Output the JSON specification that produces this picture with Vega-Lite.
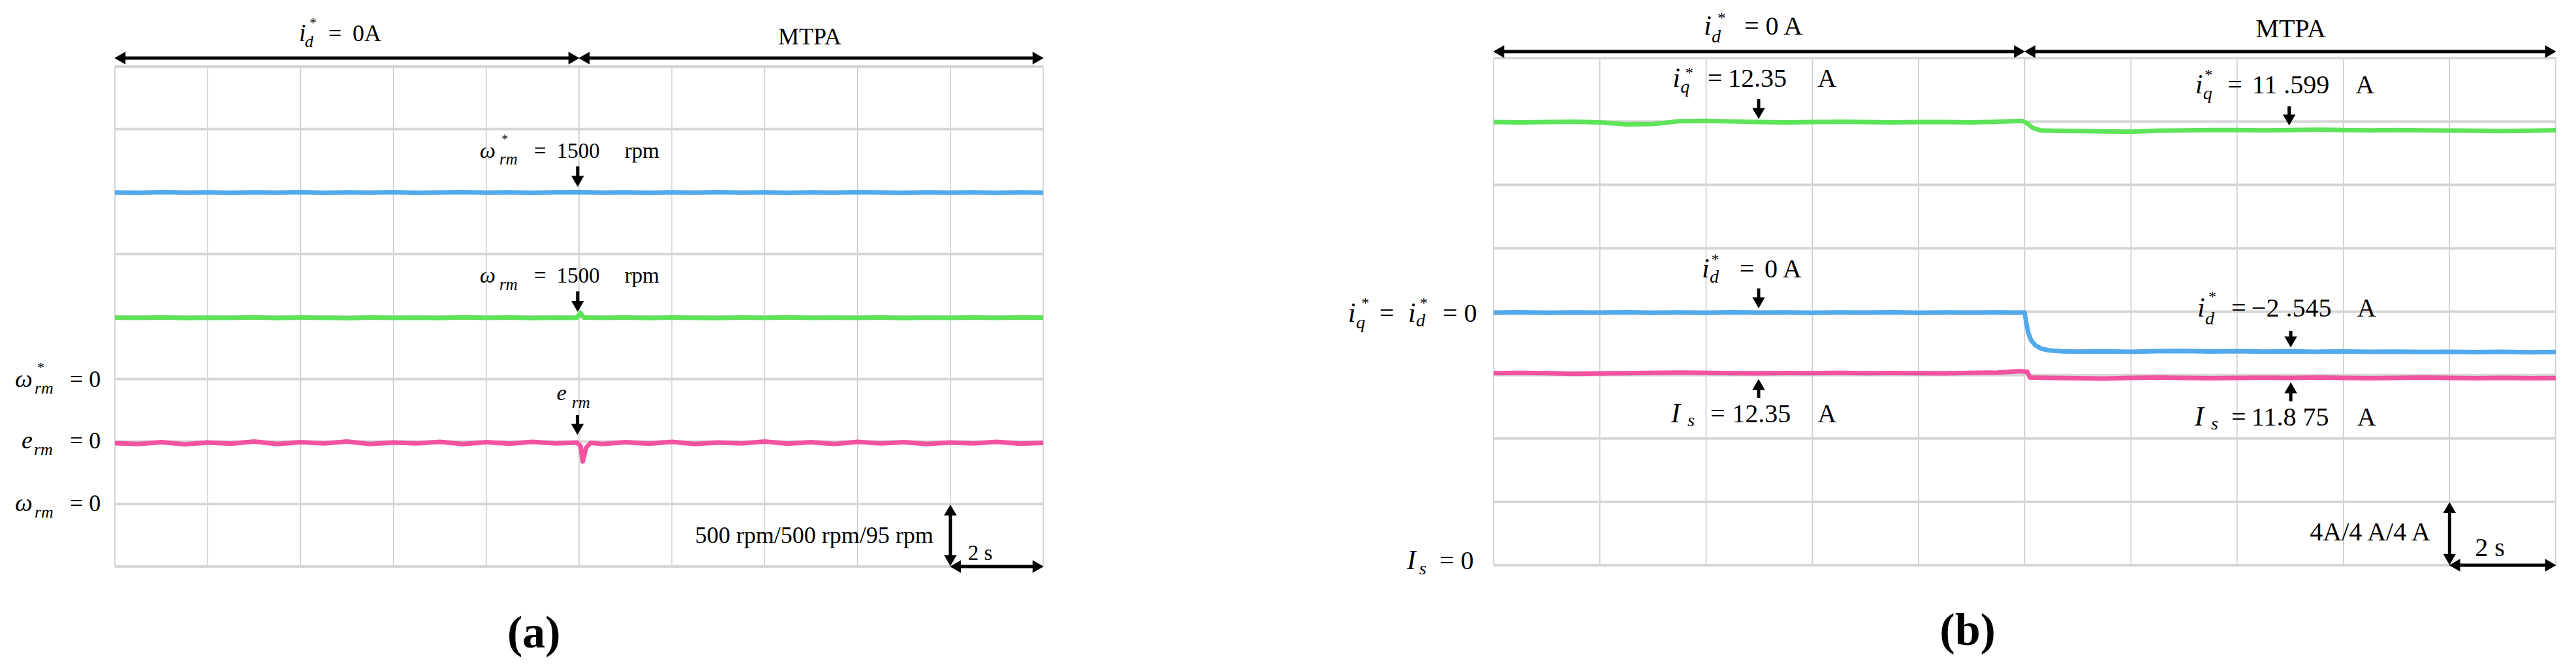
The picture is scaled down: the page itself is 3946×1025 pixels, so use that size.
{
"$schema": "https://vega.github.io/schema/vega-lite/v6.json",
"padding": 0,
"autosize": {"type": "pad"},
"spacing": 690,
"bounds": "flush",
"config": {"view": {"stroke": null}},
"resolve": {"scale": {"color": "independent"}},
"datasets": {
"grid": [
{"d":"v","t":0,"v":0,"t2":0,"v2":8},{"d":"v","t":2,"v":0,"t2":2,"v2":8},{"d":"v","t":4,"v":0,"t2":4,"v2":8},{"d":"v","t":6,"v":0,"t2":6,"v2":8},{"d":"v","t":8,"v":0,"t2":8,"v2":8},{"d":"v","t":10,"v":0,"t2":10,"v2":8},{"d":"v","t":12,"v":0,"t2":12,"v2":8},{"d":"v","t":14,"v":0,"t2":14,"v2":8},{"d":"v","t":16,"v":0,"t2":16,"v2":8},{"d":"v","t":18,"v":0,"t2":18,"v2":8},{"d":"v","t":20,"v":0,"t2":20,"v2":8},
{"d":"h","t":0,"v":0,"t2":20,"v2":0},{"d":"h","t":0,"v":1,"t2":20,"v2":1},{"d":"h","t":0,"v":2,"t2":20,"v2":2},{"d":"h","t":0,"v":3,"t2":20,"v2":3},{"d":"h","t":0,"v":4,"t2":20,"v2":4},{"d":"h","t":0,"v":5,"t2":20,"v2":5},{"d":"h","t":0,"v":6,"t2":20,"v2":6},{"d":"h","t":0,"v":7,"t2":20,"v2":7},{"d":"h","t":0,"v":8,"t2":20,"v2":8}
],
"a_trace": [
{"k":"wref","t":0,"v":5.985},{"k":"wref","t":0.5,"v":5.98},{"k":"wref","t":1,"v":5.99},{"k":"wref","t":1.5,"v":5.982},{"k":"wref","t":2,"v":5.986},{"k":"wref","t":2.5,"v":5.978},{"k":"wref","t":3,"v":5.988},{"k":"wref","t":3.5,"v":5.983},{"k":"wref","t":4,"v":5.99},{"k":"wref","t":4.5,"v":5.98},{"k":"wref","t":5,"v":5.986},{"k":"wref","t":5.5,"v":5.981},{"k":"wref","t":6,"v":5.989},{"k":"wref","t":6.5,"v":5.979},{"k":"wref","t":7,"v":5.985},{"k":"wref","t":7.5,"v":5.99},{"k":"wref","t":8,"v":5.982},{"k":"wref","t":8.5,"v":5.987},{"k":"wref","t":9,"v":5.98},{"k":"wref","t":9.5,"v":5.986},{"k":"wref","t":10,"v":5.99},{"k":"wref","t":10.5,"v":5.982},{"k":"wref","t":11,"v":5.987},{"k":"wref","t":11.5,"v":5.979},{"k":"wref","t":12,"v":5.988},{"k":"wref","t":12.5,"v":5.983},{"k":"wref","t":13,"v":5.99},{"k":"wref","t":13.5,"v":5.981},{"k":"wref","t":14,"v":5.986},{"k":"wref","t":14.5,"v":5.98},{"k":"wref","t":15,"v":5.988},{"k":"wref","t":15.5,"v":5.982},{"k":"wref","t":16,"v":5.99},{"k":"wref","t":16.5,"v":5.984},{"k":"wref","t":17,"v":5.979},{"k":"wref","t":17.5,"v":5.987},{"k":"wref","t":18,"v":5.982},{"k":"wref","t":18.5,"v":5.988},{"k":"wref","t":19,"v":5.98},{"k":"wref","t":19.5,"v":5.986},{"k":"wref","t":20,"v":5.983},
{"k":"w","t":0,"v":3.982},{"k":"w","t":0.5,"v":3.978},{"k":"w","t":1,"v":3.985},{"k":"w","t":1.5,"v":3.976},{"k":"w","t":2,"v":3.983},{"k":"w","t":2.5,"v":3.979},{"k":"w","t":3,"v":3.986},{"k":"w","t":3.5,"v":3.977},{"k":"w","t":4,"v":3.984},{"k":"w","t":4.5,"v":3.98},{"k":"w","t":5,"v":3.975},{"k":"w","t":5.5,"v":3.985},{"k":"w","t":6,"v":3.979},{"k":"w","t":6.5,"v":3.983},{"k":"w","t":7,"v":3.977},{"k":"w","t":7.5,"v":3.986},{"k":"w","t":8,"v":3.98},{"k":"w","t":8.5,"v":3.984},{"k":"w","t":9,"v":3.977},{"k":"w","t":9.5,"v":3.983},{"k":"w","t":9.95,"v":3.98},{"k":"w","t":10.03,"v":4.06},{"k":"w","t":10.1,"v":3.985},{"k":"w","t":10.5,"v":3.979},{"k":"w","t":11,"v":3.984},{"k":"w","t":11.5,"v":3.977},{"k":"w","t":12,"v":3.985},{"k":"w","t":12.5,"v":3.98},{"k":"w","t":13,"v":3.976},{"k":"w","t":13.5,"v":3.984},{"k":"w","t":14,"v":3.979},{"k":"w","t":14.5,"v":3.986},{"k":"w","t":15,"v":3.978},{"k":"w","t":15.5,"v":3.983},{"k":"w","t":16,"v":3.98},{"k":"w","t":16.5,"v":3.985},{"k":"w","t":17,"v":3.977},{"k":"w","t":17.5,"v":3.982},{"k":"w","t":18,"v":3.979},{"k":"w","t":18.5,"v":3.985},{"k":"w","t":19,"v":3.978},{"k":"w","t":19.5,"v":3.984},{"k":"w","t":20,"v":3.981},
{"k":"e","t":0,"v":1.975},{"k":"e","t":0.5,"v":1.96},{"k":"e","t":1,"v":1.99},{"k":"e","t":1.5,"v":1.955},{"k":"e","t":2,"v":1.985},{"k":"e","t":2.5,"v":1.965},{"k":"e","t":3,"v":2.0},{"k":"e","t":3.5,"v":1.96},{"k":"e","t":4,"v":1.99},{"k":"e","t":4.5,"v":1.97},{"k":"e","t":5,"v":2.0},{"k":"e","t":5.5,"v":1.96},{"k":"e","t":6,"v":1.985},{"k":"e","t":6.5,"v":1.97},{"k":"e","t":7,"v":1.995},{"k":"e","t":7.5,"v":1.96},{"k":"e","t":8,"v":1.99},{"k":"e","t":8.5,"v":1.965},{"k":"e","t":9,"v":1.995},{"k":"e","t":9.5,"v":1.97},{"k":"e","t":9.95,"v":1.985},{"k":"e","t":10.03,"v":1.93},{"k":"e","t":10.08,"v":1.68},{"k":"e","t":10.15,"v":1.9},{"k":"e","t":10.25,"v":1.98},{"k":"e","t":10.5,"v":1.96},{"k":"e","t":11,"v":1.99},{"k":"e","t":11.5,"v":1.965},{"k":"e","t":12,"v":1.995},{"k":"e","t":12.5,"v":1.96},{"k":"e","t":13,"v":1.985},{"k":"e","t":13.5,"v":1.97},{"k":"e","t":14,"v":2.0},{"k":"e","t":14.5,"v":1.965},{"k":"e","t":15,"v":1.99},{"k":"e","t":15.5,"v":1.96},{"k":"e","t":16,"v":1.995},{"k":"e","t":16.5,"v":1.97},{"k":"e","t":17,"v":1.99},{"k":"e","t":17.5,"v":1.96},{"k":"e","t":18,"v":1.985},{"k":"e","t":18.5,"v":1.97},{"k":"e","t":19,"v":1.995},{"k":"e","t":19.5,"v":1.965},{"k":"e","t":20,"v":1.98}
],
"b_trace": [
{"k":"iq","t":0,"v":6.99},{"k":"iq","t":0.5,"v":6.985},{"k":"iq","t":1,"v":6.99},{"k":"iq","t":1.5,"v":6.995},{"k":"iq","t":2,"v":6.985},{"k":"iq","t":2.5,"v":6.955},{"k":"iq","t":3,"v":6.96},{"k":"iq","t":3.5,"v":7.005},{"k":"iq","t":4,"v":7.01},{"k":"iq","t":4.5,"v":7.0},{"k":"iq","t":5,"v":6.99},{"k":"iq","t":5.5,"v":6.985},{"k":"iq","t":6,"v":6.99},{"k":"iq","t":6.5,"v":6.995},{"k":"iq","t":7,"v":6.99},{"k":"iq","t":7.5,"v":6.985},{"k":"iq","t":8,"v":6.99},{"k":"iq","t":8.5,"v":6.99},{"k":"iq","t":9,"v":6.985},{"k":"iq","t":9.5,"v":6.995},{"k":"iq","t":9.95,"v":7.01},{"k":"iq","t":10.05,"v":6.97},{"k":"iq","t":10.15,"v":6.9},{"k":"iq","t":10.3,"v":6.86},{"k":"iq","t":10.5,"v":6.855},{"k":"iq","t":11,"v":6.85},{"k":"iq","t":11.5,"v":6.845},{"k":"iq","t":12,"v":6.84},{"k":"iq","t":12.5,"v":6.855},{"k":"iq","t":13,"v":6.86},{"k":"iq","t":13.5,"v":6.865},{"k":"iq","t":14,"v":6.865},{"k":"iq","t":14.5,"v":6.86},{"k":"iq","t":15,"v":6.865},{"k":"iq","t":15.5,"v":6.87},{"k":"iq","t":16,"v":6.865},{"k":"iq","t":16.5,"v":6.86},{"k":"iq","t":17,"v":6.865},{"k":"iq","t":17.5,"v":6.86},{"k":"iq","t":18,"v":6.858},{"k":"iq","t":18.5,"v":6.855},{"k":"iq","t":19,"v":6.85},{"k":"iq","t":19.5,"v":6.855},{"k":"iq","t":20,"v":6.862},
{"k":"id","t":0,"v":3.985},{"k":"id","t":0.5,"v":3.99},{"k":"id","t":1,"v":3.982},{"k":"id","t":1.5,"v":3.988},{"k":"id","t":2,"v":3.984},{"k":"id","t":2.5,"v":3.99},{"k":"id","t":3,"v":3.983},{"k":"id","t":3.5,"v":3.987},{"k":"id","t":4,"v":3.982},{"k":"id","t":4.5,"v":3.99},{"k":"id","t":5,"v":3.985},{"k":"id","t":5.5,"v":3.988},{"k":"id","t":6,"v":3.983},{"k":"id","t":6.5,"v":3.987},{"k":"id","t":7,"v":3.984},{"k":"id","t":7.5,"v":3.99},{"k":"id","t":8,"v":3.983},{"k":"id","t":8.5,"v":3.988},{"k":"id","t":9,"v":3.984},{"k":"id","t":9.5,"v":3.987},{"k":"id","t":10,"v":3.985},{"k":"id","t":10.03,"v":3.82},{"k":"id","t":10.07,"v":3.66},{"k":"id","t":10.12,"v":3.55},{"k":"id","t":10.2,"v":3.47},{"k":"id","t":10.3,"v":3.42},{"k":"id","t":10.45,"v":3.39},{"k":"id","t":10.7,"v":3.375},{"k":"id","t":11,"v":3.37},{"k":"id","t":11.5,"v":3.375},{"k":"id","t":12,"v":3.368},{"k":"id","t":12.5,"v":3.378},{"k":"id","t":13,"v":3.38},{"k":"id","t":13.5,"v":3.372},{"k":"id","t":14,"v":3.377},{"k":"id","t":14.5,"v":3.37},{"k":"id","t":15,"v":3.375},{"k":"id","t":15.5,"v":3.368},{"k":"id","t":16,"v":3.372},{"k":"id","t":16.5,"v":3.366},{"k":"id","t":17,"v":3.37},{"k":"id","t":17.5,"v":3.364},{"k":"id","t":18,"v":3.368},{"k":"id","t":18.5,"v":3.362},{"k":"id","t":19,"v":3.366},{"k":"id","t":19.5,"v":3.36},{"k":"id","t":20,"v":3.363},
{"k":"Is","t":0,"v":3.03},{"k":"Is","t":0.5,"v":3.035},{"k":"Is","t":1,"v":3.03},{"k":"Is","t":1.5,"v":3.02},{"k":"Is","t":2,"v":3.025},{"k":"Is","t":2.5,"v":3.03},{"k":"Is","t":3,"v":3.035},{"k":"Is","t":3.5,"v":3.04},{"k":"Is","t":4,"v":3.035},{"k":"Is","t":4.5,"v":3.03},{"k":"Is","t":5,"v":3.028},{"k":"Is","t":5.5,"v":3.032},{"k":"Is","t":6,"v":3.03},{"k":"Is","t":6.5,"v":3.035},{"k":"Is","t":7,"v":3.03},{"k":"Is","t":7.5,"v":3.033},{"k":"Is","t":8,"v":3.03},{"k":"Is","t":8.5,"v":3.028},{"k":"Is","t":9,"v":3.035},{"k":"Is","t":9.5,"v":3.04},{"k":"Is","t":9.9,"v":3.06},{"k":"Is","t":10.05,"v":3.05},{"k":"Is","t":10.1,"v":2.96},{"k":"Is","t":10.5,"v":2.955},{"k":"Is","t":11,"v":2.95},{"k":"Is","t":11.5,"v":2.945},{"k":"Is","t":12,"v":2.955},{"k":"Is","t":12.5,"v":2.96},{"k":"Is","t":13,"v":2.955},{"k":"Is","t":13.5,"v":2.95},{"k":"Is","t":14,"v":2.955},{"k":"Is","t":14.5,"v":2.958},{"k":"Is","t":15,"v":2.955},{"k":"Is","t":15.5,"v":2.96},{"k":"Is","t":16,"v":2.955},{"k":"Is","t":16.5,"v":2.95},{"k":"Is","t":17,"v":2.955},{"k":"Is","t":17.5,"v":2.96},{"k":"Is","t":18,"v":2.955},{"k":"Is","t":18.5,"v":2.95},{"k":"Is","t":19,"v":2.955},{"k":"Is","t":19.5,"v":2.95},{"k":"Is","t":20,"v":2.953}
],
"a_shaft": [
{"t":9.97,"v":6.403,"t2":9.97,"v2":6.163},
{"t":9.97,"v":4.403,"t2":9.97,"v2":4.163},
{"t":9.965,"v":2.423,"t2":9.965,"v2":2.194},
{"t":0.1,"v":8.136,"t2":9.9,"v2":8.136},
{"t":10.1,"v":8.136,"t2":19.9,"v2":8.136},
{"t":18,"v":0.1,"t2":18,"v2":0.9},
{"t":18.1,"v":0,"t2":19.9,"v2":0}
],
"a_head": [
{"dir":"down","t":9.97,"v":6.163},
{"dir":"down","t":9.97,"v":4.163},
{"dir":"down","t":9.965,"v":2.194},
{"dir":"left","t":0.11,"v":8.136},
{"dir":"right","t":9.89,"v":8.136},
{"dir":"left","t":10.11,"v":8.136},
{"dir":"right","t":19.89,"v":8.136},
{"dir":"up","t":18,"v":0.905},
{"dir":"down","t":18,"v":0.095},
{"dir":"left","t":18.11,"v":0},
{"dir":"right","t":19.89,"v":0}
],
"b_shaft": [
{"t":4.99,"v":7.351,"t2":4.99,"v2":7.126},
{"t":14.98,"v":7.238,"t2":14.98,"v2":7.023},
{"t":4.99,"v":4.366,"t2":4.99,"v2":4.14},
{"t":15.01,"v":3.696,"t2":15.01,"v2":3.523},
{"t":4.99,"v":2.636,"t2":4.99,"v2":2.851},
{"t":15.01,"v":2.584,"t2":15.01,"v2":2.799},
{"t":0.1,"v":8.103,"t2":9.9,"v2":8.103},
{"t":10.1,"v":8.103,"t2":19.9,"v2":8.103},
{"t":18,"v":0.1,"t2":18,"v2":0.9},
{"t":18.1,"v":0,"t2":19.9,"v2":0}
],
"b_head": [
{"dir":"down","t":4.99,"v":7.126},
{"dir":"down","t":14.98,"v":7.023},
{"dir":"down","t":4.99,"v":4.14},
{"dir":"down","t":15.01,"v":3.523},
{"dir":"up","t":4.99,"v":2.851},
{"dir":"up","t":15.01,"v":2.799},
{"dir":"left","t":0.096,"v":8.103},
{"dir":"right","t":9.904,"v":8.103},
{"dir":"left","t":10.096,"v":8.103},
{"dir":"right","t":19.904,"v":8.103},
{"dir":"up","t":18,"v":0.91},
{"dir":"down","t":18,"v":0.09},
{"dir":"left","t":18.096,"v":0},
{"dir":"right","t":19.904,"v":0}
],
"a_text": [
{"g":"up","s":"=","t":9.03,"v":6.538},
{"g":"up","s":"1500","t":9.52,"v":6.538},
{"g":"up","s":"rpm","t":10.98,"v":6.538},
{"g":"up","s":"=","t":9.03,"v":4.538},
{"g":"up","s":"1500","t":9.52,"v":4.538},
{"g":"up","s":"rpm","t":10.98,"v":4.538},
{"g":"up","s":"2 s","t":18.38,"v":0.104},
{"g":"it","s":"ω","t":7.862,"v":6.538},
{"g":"it","s":"ω","t":7.862,"v":4.538},
{"g":"it","s":"e","t":9.52,"v":2.663},
{"g":"sub","s":"rm","t":8.284,"v":6.433},
{"g":"sub","s":"rm","t":8.284,"v":4.433},
{"g":"sub","s":"rm","t":9.845,"v":2.538},
{"g":"star","s":"*","t":8.326,"v":6.768},
{"g":"bup","s":"= 0","t":-0.97,"v":2.872},
{"g":"bup","s":"= 0","t":-0.97,"v":1.89},
{"g":"bup","s":"= 0","t":-0.97,"v":0.888},
{"g":"bup","s":"=","t":4.6,"v":8.407},
{"g":"bup","s":"0A","t":5.12,"v":8.407},
{"g":"bup","s":"MTPA","t":14.29,"v":8.355},
{"g":"bup","s":"500 rpm/500 rpm/95 rpm","t":12.5,"v":0.376},
{"g":"bit","s":"ω","t":-2.152,"v":2.872},
{"g":"bit","s":"e","t":-2.011,"v":1.89},
{"g":"bit","s":"ω","t":-2.152,"v":0.888},
{"g":"bit","s":"i","t":3.966,"v":8.407},
{"g":"bsub","s":"rm","t":-1.73,"v":2.768},
{"g":"bsub","s":"rm","t":-1.744,"v":1.786},
{"g":"bsub","s":"rm","t":-1.73,"v":0.783},
{"g":"bsub","s":"d","t":4.093,"v":8.313},
{"g":"bstar","s":"*","t":-1.674,"v":3.112},
{"g":"bstar","s":"*","t":4.19,"v":8.627},
{"g":"cap","s":"(a)","t":8.453,"v":-1.295}
],
"b_text": [
{"g":"up","s":"=","t":4.03,"v":7.547},
{"g":"up","s":"12.35","t":4.413,"v":7.547},
{"g":"up","s":"A","t":6.1,"v":7.547},
{"g":"up","s":"=","t":13.82,"v":7.444},
{"g":"up","s":"11 .599","t":14.28,"v":7.444},
{"g":"up","s":"A","t":16.23,"v":7.444},
{"g":"up","s":"=","t":4.63,"v":4.541},
{"g":"up","s":"0 A","t":5.1,"v":4.541},
{"g":"up","s":"=","t":13.89,"v":3.923},
{"g":"up","s":"−2 .545","t":14.27,"v":3.923},
{"g":"up","s":"A","t":16.26,"v":3.923},
{"g":"up","s":"=","t":4.08,"v":2.255},
{"g":"up","s":"12.35","t":4.49,"v":2.255},
{"g":"up","s":"A","t":6.1,"v":2.255},
{"g":"up","s":"=","t":13.89,"v":2.203},
{"g":"up","s":"11.8 75","t":14.27,"v":2.203},
{"g":"up","s":"A","t":16.26,"v":2.203},
{"g":"up","s":"4A/4 A/4 A","t":15.37,"v":0.391},
{"g":"up","s":"2 s","t":18.48,"v":0.144},
{"g":"up","s":"= 0 A","t":4.72,"v":8.371},
{"g":"up","s":"MTPA","t":14.35,"v":8.33},
{"g":"up","s":"=","t":-2.151,"v":3.84},
{"g":"up","s":"= 0","t":-0.959,"v":3.84},
{"g":"up","s":"= 0","t":-1.02,"v":-0.062},
{"g":"it","s":"i","t":3.37,"v":7.547},
{"g":"it","s":"i","t":13.21,"v":7.444},
{"g":"it","s":"i","t":3.92,"v":4.541},
{"g":"it","s":"i","t":13.25,"v":3.923},
{"g":"it","s":"I","t":3.34,"v":2.255},
{"g":"it","s":"I","t":13.2,"v":2.203},
{"g":"it","s":"i","t":3.958,"v":8.371},
{"g":"it","s":"i","t":-2.741,"v":3.84},
{"g":"it","s":"i","t":-1.61,"v":3.84},
{"g":"it","s":"I","t":-1.635,"v":-0.062},
{"g":"sub","s":"q","t":3.52,"v":7.454},
{"g":"sub","s":"q","t":13.36,"v":7.351},
{"g":"sub","s":"d","t":4.07,"v":4.458},
{"g":"sub","s":"d","t":13.4,"v":3.8},
{"g":"sub","s":"s","t":3.65,"v":2.193},
{"g":"sub","s":"s","t":13.51,"v":2.142},
{"g":"sub","s":"d","t":4.106,"v":8.25},
{"g":"sub","s":"q","t":-2.59,"v":3.737},
{"g":"sub","s":"d","t":-1.46,"v":3.768},
{"g":"sub","s":"s","t":-1.4,"v":-0.144},
{"g":"star","s":"*","t":3.61,"v":7.69},
{"g":"star","s":"*","t":13.39,"v":7.66},
{"g":"star","s":"*","t":4.1,"v":4.746},
{"g":"star","s":"*","t":13.46,"v":4.16},
{"g":"star","s":"*","t":4.22,"v":8.56},
{"g":"star","s":"*","t":-2.49,"v":4.057},
{"g":"star","s":"*","t":-1.389,"v":4.057},
{"g":"cap","s":"(b)","t":8.4,"v":-1.256}
],
"a_anchor": [{"t":-2.468,"v":9.06}],
"b_anchor": [{"t":20.375,"v":-1.632}]
},
"hconcat": [
{
"width": 1422, "height": 779,
"encoding": {
"x": {"field":"t","type":"quantitative","scale":{"domain":[0,20],"nice":false,"zero":false},"axis":null},
"y": {"field":"v","type":"quantitative","scale":{"domain":[0,8.1358],"nice":false,"zero":false},"axis":null}
},
"layer": [
{"data":{"name":"a_anchor"},"mark":{"type":"square","size":1,"color":"#ffffff","opacity":1}},
{"data":{"name":"grid"},"transform":[{"filter":"datum.d==='v'"}],"mark":{"type":"rule","color":"#c9c9c9","strokeWidth":1.5},"encoding":{"x2":{"field":"t2"},"y2":{"field":"v2"}}},
{"data":{"name":"grid"},"transform":[{"filter":"datum.d==='h'"}],"mark":{"type":"rule","color":"#d6d6d6","strokeWidth":4},"encoding":{"x2":{"field":"t2"},"y2":{"field":"v2"}}},
{"data":{"name":"a_trace"},"mark":{"type":"line","strokeWidth":7,"strokeJoin":"round"},"encoding":{"color":{"field":"k","type":"nominal","scale":{"domain":["wref","w","e"],"range":["#52a9ec","#5fe35a","#f2529f"]},"legend":null}}},
{"data":{"name":"a_shaft"},"mark":{"type":"rule","color":"#000000","strokeWidth":5},"encoding":{"x2":{"field":"t2"},"y2":{"field":"v2"}}},
{"data":{"name":"a_head"},"mark":{"type":"point","filled":true,"color":"#000000","opacity":1,"size":380,"strokeWidth":0},"encoding":{"shape":{"field":"dir","type":"nominal","scale":{"domain":["down","up","left","right"],"range":["triangle-down","triangle-up","triangle-left","triangle-right"]},"legend":null}}},
{"data":{"name":"a_text"},"transform":[{"filter":"datum.g==='up'"}],"mark":{"type":"text","align":"left","baseline":"alphabetic","font":"Liberation Serif","fontSize":33,"color":"#000000"},"encoding":{"text":{"field":"s","type":"nominal"}}},
{"data":{"name":"a_text"},"transform":[{"filter":"datum.g==='it'"}],"mark":{"type":"text","align":"left","baseline":"alphabetic","font":"Liberation Serif","fontStyle":"italic","fontSize":34,"color":"#000000"},"encoding":{"text":{"field":"s","type":"nominal"}}},
{"data":{"name":"a_text"},"transform":[{"filter":"datum.g==='sub'"}],"mark":{"type":"text","align":"left","baseline":"alphabetic","font":"Liberation Serif","fontStyle":"italic","fontSize":25,"color":"#000000"},"encoding":{"text":{"field":"s","type":"nominal"}}},
{"data":{"name":"a_text"},"transform":[{"filter":"datum.g==='star'"}],"mark":{"type":"text","align":"left","baseline":"alphabetic","font":"Liberation Serif","fontSize":21,"color":"#000000"},"encoding":{"text":{"field":"s","type":"nominal"}}},
{"data":{"name":"a_text"},"transform":[{"filter":"datum.g==='bup'"}],"mark":{"type":"text","align":"left","baseline":"alphabetic","font":"Liberation Serif","fontSize":36,"color":"#000000"},"encoding":{"text":{"field":"s","type":"nominal"}}},
{"data":{"name":"a_text"},"transform":[{"filter":"datum.g==='bit'"}],"mark":{"type":"text","align":"left","baseline":"alphabetic","font":"Liberation Serif","fontStyle":"italic","fontSize":38,"color":"#000000"},"encoding":{"text":{"field":"s","type":"nominal"}}},
{"data":{"name":"a_text"},"transform":[{"filter":"datum.g==='bsub'"}],"mark":{"type":"text","align":"left","baseline":"alphabetic","font":"Liberation Serif","fontStyle":"italic","fontSize":26,"color":"#000000"},"encoding":{"text":{"field":"s","type":"nominal"}}},
{"data":{"name":"a_text"},"transform":[{"filter":"datum.g==='bstar'"}],"mark":{"type":"text","align":"left","baseline":"alphabetic","font":"Liberation Serif","fontSize":22,"color":"#000000"},"encoding":{"text":{"field":"s","type":"nominal"}}},
{"data":{"name":"a_text"},"transform":[{"filter":"datum.g==='cap'"}],"mark":{"type":"text","align":"left","baseline":"alphabetic","font":"Liberation Serif","fontWeight":"bold","fontSize":70,"color":"#000000"},"encoding":{"text":{"field":"s","type":"nominal"}}}
]
},
{
"width": 1627, "height": 777,
"encoding": {
"x": {"field":"t","type":"quantitative","scale":{"domain":[0,20],"nice":false,"zero":false},"axis":null},
"y": {"field":"v","type":"quantitative","scale":{"domain":[0,8],"nice":false,"zero":false},"axis":null}
},
"layer": [
{"data":{"name":"b_anchor"},"mark":{"type":"square","size":1,"color":"#ffffff","opacity":1}},
{"data":{"name":"grid"},"transform":[{"filter":"datum.d==='v'"}],"mark":{"type":"rule","color":"#c9c9c9","strokeWidth":1.5},"encoding":{"x2":{"field":"t2"},"y2":{"field":"v2"}}},
{"data":{"name":"grid"},"transform":[{"filter":"datum.d==='h'"}],"mark":{"type":"rule","color":"#d6d6d6","strokeWidth":4},"encoding":{"x2":{"field":"t2"},"y2":{"field":"v2"}}},
{"data":{"name":"b_trace"},"mark":{"type":"line","strokeWidth":7,"strokeJoin":"round"},"encoding":{"color":{"field":"k","type":"nominal","scale":{"domain":["iq","id","Is"],"range":["#5fe35a","#52a9ec","#f2529f"]},"legend":null}}},
{"data":{"name":"b_shaft"},"mark":{"type":"rule","color":"#000000","strokeWidth":5},"encoding":{"x2":{"field":"t2"},"y2":{"field":"v2"}}},
{"data":{"name":"b_head"},"mark":{"type":"point","filled":true,"color":"#000000","opacity":1,"size":380,"strokeWidth":0},"encoding":{"shape":{"field":"dir","type":"nominal","scale":{"domain":["down","up","left","right"],"range":["triangle-down","triangle-up","triangle-left","triangle-right"]},"legend":null}}},
{"data":{"name":"b_text"},"transform":[{"filter":"datum.g==='up'"}],"mark":{"type":"text","align":"left","baseline":"alphabetic","font":"Liberation Serif","fontSize":40,"color":"#000000"},"encoding":{"text":{"field":"s","type":"nominal"}}},
{"data":{"name":"b_text"},"transform":[{"filter":"datum.g==='it'"}],"mark":{"type":"text","align":"left","baseline":"alphabetic","font":"Liberation Serif","fontStyle":"italic","fontSize":42,"color":"#000000"},"encoding":{"text":{"field":"s","type":"nominal"}}},
{"data":{"name":"b_text"},"transform":[{"filter":"datum.g==='sub'"}],"mark":{"type":"text","align":"left","baseline":"alphabetic","font":"Liberation Serif","fontStyle":"italic","fontSize":28,"color":"#000000"},"encoding":{"text":{"field":"s","type":"nominal"}}},
{"data":{"name":"b_text"},"transform":[{"filter":"datum.g==='star'"}],"mark":{"type":"text","align":"left","baseline":"alphabetic","font":"Liberation Serif","fontSize":24,"color":"#000000"},"encoding":{"text":{"field":"s","type":"nominal"}}},
{"data":{"name":"b_text"},"transform":[{"filter":"datum.g==='cap'"}],"mark":{"type":"text","align":"left","baseline":"alphabetic","font":"Liberation Serif","fontWeight":"bold","fontSize":70,"color":"#000000"},"encoding":{"text":{"field":"s","type":"nominal"}}}
]
}
]
}
